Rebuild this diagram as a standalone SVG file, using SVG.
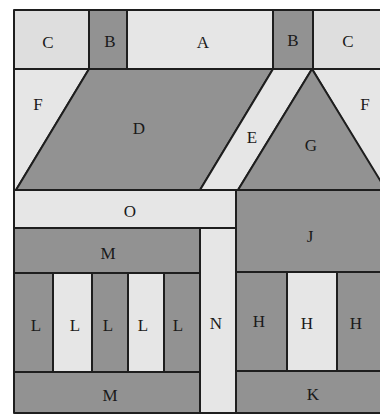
<svg xmlns="http://www.w3.org/2000/svg" width="380" height="416" viewBox="0 0 380 416">
<style>
.lt{fill:#e6e6e6;stroke:#1e1e1e;stroke-width:2;stroke-linejoin:round}
.lc{fill:#dedede;stroke:#1e1e1e;stroke-width:2;stroke-linejoin:round}
.dk{fill:#929292;stroke:#1e1e1e;stroke-width:2;stroke-linejoin:round}
text{font-family:"Liberation Serif","DejaVu Serif",serif;font-size:17px;fill:#1a1a1a;text-anchor:middle;dominant-baseline:central}
</style>
<rect width="380" height="416" fill="#fff"/>
<g id="C1"><rect class="lc" x="14" y="10" width="75" height="59"/><text x="48" y="42">C</text></g>
<g id="B1"><rect class="dk" x="89" y="10" width="38" height="59"/><text x="110" y="41">B</text></g>
<g id="A"><rect class="lt" x="127" y="10" width="146" height="59"/><text x="203" y="42">A</text></g>
<g id="B2"><rect class="dk" x="273" y="10" width="40" height="59"/><text x="293" y="40">B</text></g>
<g id="C2"><rect class="lc" x="313" y="10" width="72" height="59"/><text x="348" y="41">C</text></g>
<g id="F1"><polygon class="lt" points="14,69 89,69 16,190 14,190"/><text x="38" y="104">F</text></g>
<g id="D"><polygon class="dk" points="89,69 273,69 200,190 16,190"/><text x="139" y="128">D</text></g>
<g id="E"><polygon class="lt" points="273,69 312,69 238,190 200,190"/><text x="252" y="137">E</text></g>
<g id="F2"><polygon class="lt" points="312,69 385,69 385,190"/><text x="365" y="104">F</text></g>
<g id="G"><polygon class="dk" points="312,69 386,190 238,190"/><text x="311" y="145">G</text></g>
<g id="O"><rect class="lt" x="14" y="190" width="222" height="38"/><text x="130" y="211">O</text></g>
<g id="J"><rect class="dk" x="236" y="190" width="149" height="82"/><text x="310" y="236">J</text></g>
<g id="M1"><rect class="dk" x="14" y="228" width="186" height="45"/><text x="108" y="253">M</text></g>
<g id="N"><rect class="lt" x="200" y="228" width="36" height="185"/><text x="216" y="323">N</text></g>
<g id="L1"><rect class="dk" x="14" y="273" width="39" height="99"/><text x="36" y="325">L</text></g>
<g id="L2"><rect class="lt" x="53" y="273" width="39" height="99"/><text x="75" y="325">L</text></g>
<g id="L3"><rect class="dk" x="92" y="273" width="36" height="99"/><text x="108" y="325">L</text></g>
<g id="L4"><rect class="lt" x="128" y="273" width="36" height="99"/><text x="143" y="325">L</text></g>
<g id="L5"><rect class="dk" x="164" y="273" width="36" height="99"/><text x="178" y="325">L</text></g>
<g id="H1"><rect class="dk" x="236" y="272" width="51" height="99"/><text x="259" y="321">H</text></g>
<g id="H2"><rect class="lt" x="287" y="272" width="50" height="99"/><text x="307" y="323">H</text></g>
<g id="H3"><rect class="dk" x="337" y="272" width="48" height="99"/><text x="356" y="323">H</text></g>
<g id="M2"><rect class="dk" x="14" y="372" width="186" height="41"/><text x="110" y="395">M</text></g>
<g id="K"><rect class="dk" x="236" y="371" width="149" height="42"/><text x="313" y="394">K</text></g>
</svg>
